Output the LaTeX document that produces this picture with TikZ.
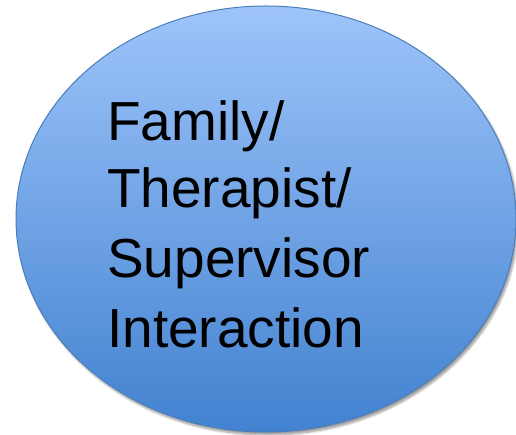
\documentclass[tikz,border=0pt]{standalone}
\usepackage{fontspec}
\setmainfont{Liberation Sans}
\usetikzlibrary{shapes.geometric,shadows.blur}
\definecolor{topblue}{RGB}{158,196,250}
\definecolor{botblue}{RGB}{66,130,208}
\definecolor{edgeblue}{RGB}{74,126,187}
\tikzset{
  bubble/.style={ellipse, draw=edgeblue, line width=1pt, top color=topblue, bottom color=botblue,
    minimum width=500pt, minimum height=426pt, inner sep=0pt,
    blur shadow={shadow xshift=2pt, shadow yshift=-3pt, shadow blur steps=6, shadow opacity=40}},
  label/.style={anchor=base west, inner sep=0pt, font=\fontsize{55pt}{69pt}\selectfont, text=black}
}
\begin{document}
\begin{tikzpicture}[x=1pt,y=1pt]
\useasboundingbox (0,0) rectangle (516,-435);
\node[bubble] (bubble) at (266,-219) {};
\node[label] (l1) at (107,-141) {Family/};
\node[label] (l2) at (107,-208) {Therapist/};
\node[label] (l3) at (107,-277) {Supervisor};
\node[label] (l4) at (107,-347) {Interaction};
\end{tikzpicture}
\end{document}
